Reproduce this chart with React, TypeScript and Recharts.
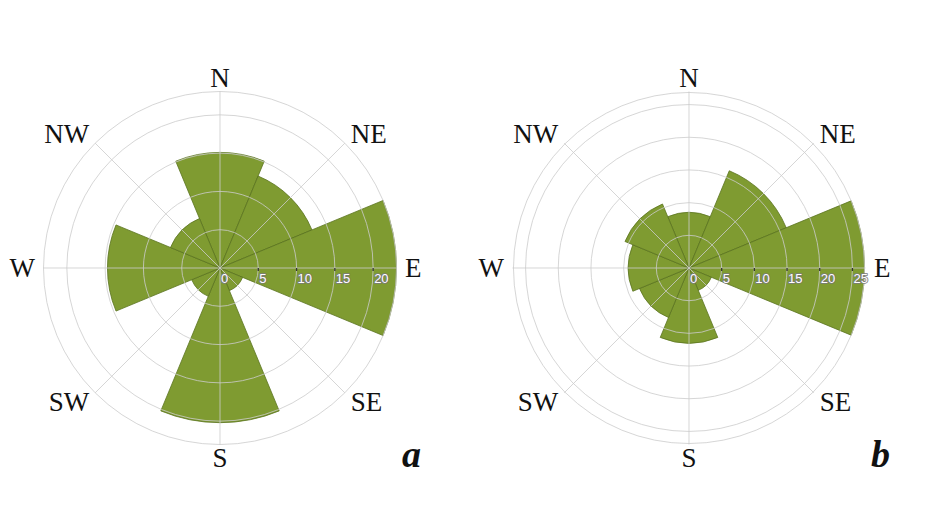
import React from 'react';
import { RadialBarChart, RadialBar, PolarAngleAxis, PolarRadiusAxis, PolarGrid } from 'recharts';

// wind directions, clockwise from north
const directions = ['N', 'NE', 'E', 'SE', 'S', 'SW', 'W', 'NW'];
// frequency per direction (%), panel a and panel b
const valuesA = [15.1, 13, 23.05, 3.2, 20.2, 4, 14.7, 7];
const valuesB = [8.5, 16.1, 26.85, 3.7, 11.5, 8.2, 9.3, 10.6];
const tickStep = 5;

const W = 469;
const H = 516;
const CX = 220;
const CY = 268;
const R = 176.5;
const GREEN = '#7f9b31';

const dirAngles = directions.map((_, i) => 90 - (i * 360) / directions.length);
const halfBand = 180 / directions.length;

const DirTick = (props: any) => {
  const a = (dirAngles[props.index] * Math.PI) / 180;
  const c = Math.cos(a);
  const s = Math.sin(a);
  const anchor = Math.abs(c) < 1e-6 ? 'middle' : c > 0 ? 'start' : 'end';
  return (
    <text
      x={CX + 185 * c}
      y={CY - 190 * s}
      dy="0.33em"
      textAnchor={anchor}
      fontFamily="'Liberation Serif', 'Times New Roman', serif"
      fontSize={27}
      fill="#111"
    >
      {props.payload.value}
    </text>
  );
};

const RadTick = (props: any) => {
  const { x, y, payload } = props;
  if (payload.value % tickStep !== 0) return <g />;
  return (
    <g>
      {payload.value > 0 && <line x1={x} y1={y} x2={x} y2={y + 3} stroke="#333" strokeWidth={1.3} />}
      <text
        x={x + 1}
        y={y + 14.5}
        textAnchor="start"
        fontFamily="'Liberation Sans', Arial, sans-serif"
        fontSize={13}
        fill="#ffffff"
        stroke="#7a7a7a"
        strokeWidth={1.6}
        paintOrder="stroke"
      >
        {payload.value}
      </text>
    </g>
  );
};

const Rose = ({ values, letter }: { values: number[]; letter: string }) => {
  const data = directions.map((dir, i) => ({ dir, value: values[i] }));
  const max = Math.max(...values);
  const ticks: number[] = [];
  for (let t = 0; t < max; t += tickStep) ticks.push(t);
  ticks.push(max);

  return (
    <div style={{ position: 'relative', width: W, height: H }}>
      <RadialBarChart
        width={W}
        height={H}
        data={data}
        layout="centric"
        cx={CX}
        cy={CY}
        innerRadius={0}
        outerRadius={R}
        startAngle={90 - halfBand}
        endAngle={90 - halfBand - 360}
        barCategoryGap={0}
        barGap={0}
      >
        <PolarAngleAxis dataKey="dir" type="category" tick={<DirTick />} axisLine={false} tickLine={false} />
        <RadialBar dataKey="value" fill={GREEN} stroke="#5b7420" strokeWidth={0.8} isAnimationActive={false} />
        <PolarGrid
          gridType="circle"
          polarAngles={dirAngles}
          stroke="#cccccc"
          strokeOpacity={0.8}
          zIndex={500}
        />
        <PolarRadiusAxis
          type="number"
          domain={[0, max]}
          ticks={ticks}
          angle={0}
          axisLine={false}
          tickLine={false}
          tick={<RadTick />}
          zIndex={600}
        />
      </RadialBarChart>
      <span
        style={{
          position: 'absolute',
          left: 402,
          top: 435,
          fontFamily: "'Liberation Serif', 'Times New Roman', serif",
          fontSize: 38,
          lineHeight: '38px',
          fontWeight: 'bold',
          fontStyle: 'italic',
          color: '#111',
        }}
      >
        {letter}
      </span>
    </div>
  );
};

export default function App() {
  return (
    <div style={{ position: 'absolute', left: 0, top: 0, width: 938, height: 516, background: '#fff', display: 'flex' }}>
      <Rose values={valuesA} letter="a" />
      <Rose values={valuesB} letter="b" />
    </div>
  );
}
